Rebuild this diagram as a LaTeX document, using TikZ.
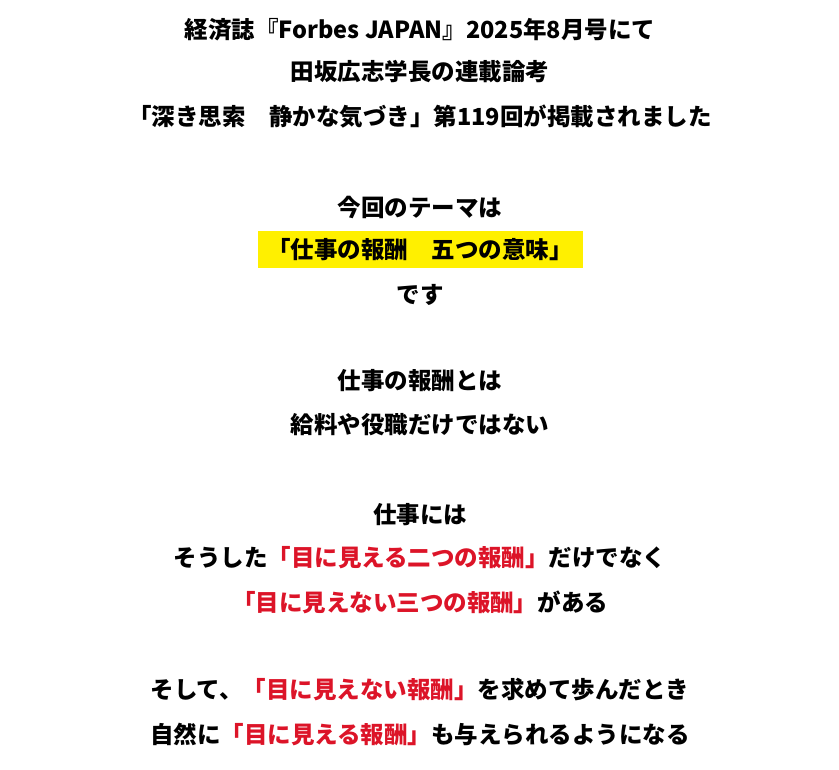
\documentclass[tikz,border=0pt]{standalone}
\usepackage{fontspec}
\setmainfont{Noto Sans CJK JP}
\definecolor{hl}{RGB}{255,240,0}
\definecolor{rd}{RGB}{220,20,40}
\begin{document}
\begin{tikzpicture}[x=1pt,y=1pt,
  ln/.style={anchor=center,inner sep=0pt,font=\fontsize{23.5}{28}\selectfont\bfseries}]
\useasboundingbox (0,0) rectangle (839,770);
\fill[hl] (258,770-231) rectangle (583,770-268);
\node[ln] (l1) at (420,770-30) {経済誌『Forbes JAPAN』2025年8月号にて};
\node[ln] (l2) at (420,770-72) {田坂広志学長の連載論考};
\node[ln] (l3) at (420,770-117) {「深き思索　静かな気づき」第119回が掲載されました};
\node[ln] (l4) at (420,770-208) {今回のテーマは};
\node[ln] (l5) at (420,770-250) {「仕事の報酬　五つの意味」};
\node[ln] (l6) at (420,770-295) {です};
\node[ln] (l7) at (420,770-381) {仕事の報酬とは};
\node[ln] (l8) at (420,770-425) {給料や役職だけではない};
\node[ln] (l9) at (420,770-515) {仕事には};
\node[ln] (l10) at (420,770-558) {そうした\textcolor{rd}{「目に見える二つの報酬」}だけでなく};
\node[ln] (l11) at (420,770-602) {\textcolor{rd}{「目に見えない三つの報酬」}がある};
\node[ln] (l12) at (420,770-690) {そして、\textcolor{rd}{「目に見えない報酬」}を求めて歩んだとき};
\node[ln] (l13) at (420,770-735) {自然に\textcolor{rd}{「目に見える報酬」}も与えられるようになる};
\end{tikzpicture}
\end{document}
